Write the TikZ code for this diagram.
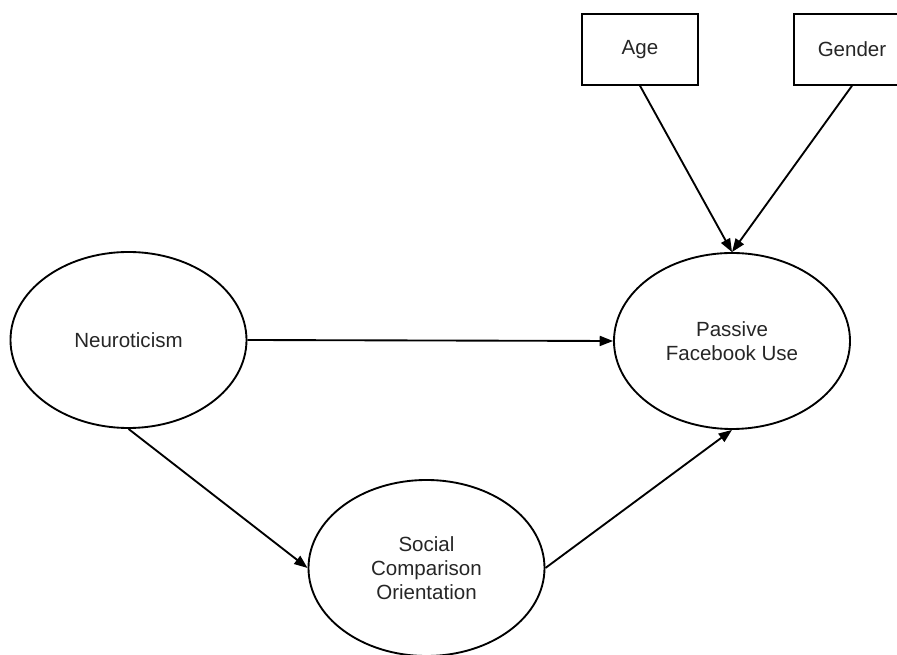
\documentclass[tikz,border=0pt]{standalone}
\usepackage{fontspec}
\setmainfont{Liberation Sans}
\usetikzlibrary{shapes.geometric, arrows.meta}

\begin{document}
\begin{tikzpicture}[x=0.75pt,y=0.75pt,yscale=-1,xscale=1,
        latent/.style={draw, ellipse, line width=1.4pt, minimum width=177pt, minimum height=132pt, inner sep=0pt, align=center, text=black!85, font=\fontsize{15.4}{18}\selectfont},
        observed/.style={draw, rectangle, line width=1.4pt, minimum width=87pt, minimum height=53pt, inner sep=0pt, text=black!85, font=\fontsize{15.4}{18}\selectfont},
        effect/.style={line width=1.4pt, -{Triangle[length=10pt,width=7.5pt]}}]
        %set diagram area: 897 x 655
        \path [use as bounding box, clip] (0,0) rectangle (897,655);
        
        %Shape: Rectangle [Age]
        \node [observed] (age) at (640,49.5) {Age};
        %Shape: Rectangle [Gender]
        \node [observed] (gender) at (852,49.5) {Gender};
        
        %Shape: Ellipse [Neuroticism]
        \node [latent] (neuro) at (128.5,340) {Neuroticism};
        %Shape: Ellipse [Passive Facebook Use]
        \node [latent] (pfu) at (732,341) {Passive\\Facebook Use};
        %Shape: Ellipse [Social Comparison Orientation]
        \node [latent] (sco) at (426.5,568) {Social\\Comparison\\Orientation};
        
        %Straight Lines
        \draw [effect] (age.south) -- (pfu.north);
        \draw [effect] (gender.south) -- (pfu.north);
        \draw [effect] (neuro.east) -- (pfu.west);
        \draw [effect] (neuro.south) -- (sco.west);
        \draw [effect] (sco.east) -- (pfu.south);
        
\end{tikzpicture}
\end{document}
